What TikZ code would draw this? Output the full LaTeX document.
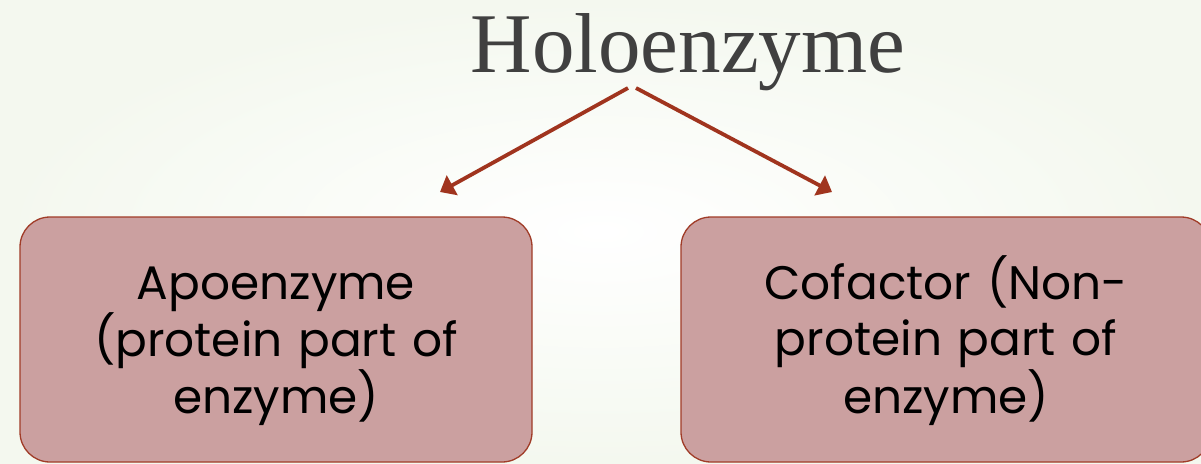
\documentclass[tikz,border=0pt]{standalone}
\usepackage{fontspec}
\setmainfont{Liberation Serif}
\newfontfamily\boxfont{Poppins}
\usetikzlibrary{arrows.meta,shadings}
\definecolor{arrowred}{RGB}{160,52,30}
\definecolor{boxfill}{RGB}{203,160,160}
\definecolor{boxline}{RGB}{160,60,40}
\definecolor{titlegray}{RGB}{64,64,64}
\definecolor{bgedge}{RGB}{244,248,239}
\tikzset{
  partbox/.style={draw=boxline, line width=1.3pt, fill=boxfill, rounded corners=30pt,
    minimum height=245pt, inner sep=0pt, align=center,
    font=\boxfont\fontsize{47}{56}\selectfont, text=black},
  link/.style={draw=arrowred, line width=3.8pt, -{Triangle[length=14pt,width=22pt]}}
}
\newcommand{\toppad}{\rule{0pt}{46pt}}
\begin{document}
\begin{tikzpicture}[x=1pt,y=-1pt]
\useasboundingbox (0,0) rectangle (1201,463);
\shade[inner color=white, outer color=bgedge] (0,0) rectangle (1201,463);
\begin{scope}
\clip (0,0) rectangle (1201,463);
\node[partbox, minimum width=512pt, text width=480pt] (apo) at (276,339.5)
  {\toppad Apoenzyme\\(protein part of\\enzyme)};
\node[partbox, minimum width=530pt, text width=500pt] (cof) at (946,339.5)
  {\toppad Cofactor (Non-\\protein part of\\enzyme)};
\end{scope}
\node[anchor=base, font=\fontsize{85}{90}\selectfont, text=titlegray] (title) at (688,72) {Holoenzyme};
\coordinate (s1) at (628,88);
\coordinate (s2) at (636,88);
\coordinate (e1) at (440,192);
\coordinate (e2) at (832,192);
\draw[link] (s1) -- (e1);
\draw[link] (s2) -- (e2);
\end{tikzpicture}
\end{document}
